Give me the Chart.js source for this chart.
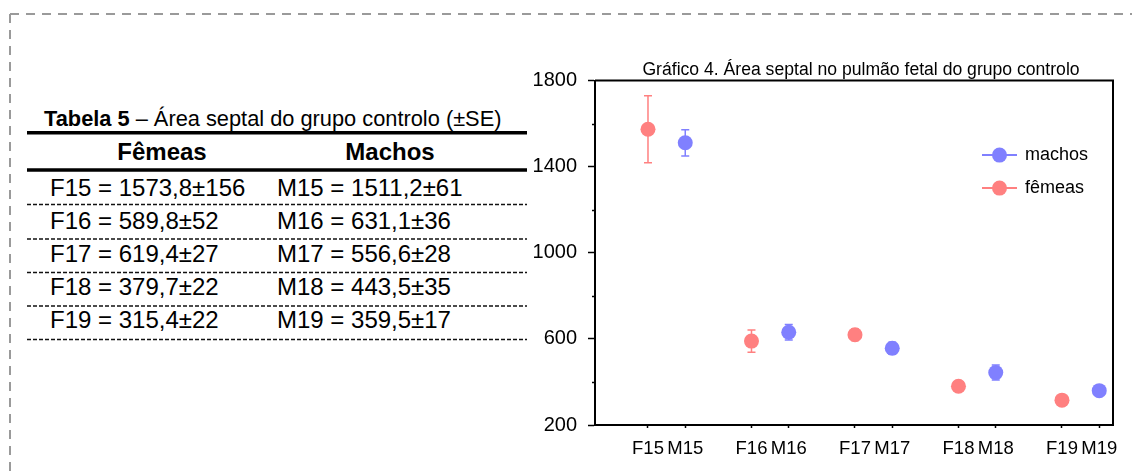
<!DOCTYPE html>
<html lang="pt">
<head>
<meta charset="utf-8">
<title>Área septal do grupo controlo</title>
<script src="https://cdn.jsdelivr.net/npm/chart.js@4.4.1/dist/chart.umd.min.js"></script>
<style>
  html, body { margin: 0; padding: 0; background: #fff; }
  body { width: 1132px; height: 473px; overflow: hidden; position: relative; }
  #frame { position: absolute; left: 0; top: 0; }
  #chartBox { position: absolute; left: 520px; top: 0; width: 682px; height: 473px; }
</style>
</head>
<body>
<svg id="frame" width="1132" height="473" xmlns="http://www.w3.org/2000/svg"></svg>
<div id="chartBox"><canvas id="chart"></canvas></div>
<script>
// Gestational day of each control group
const idades = ['15', '16', '17', '18', '19'];
// Mean septal area (±SE), females
const femeas = [1573.8, 589.8, 619.4, 379.7, 315.4];
const femeasSE = [156, 52, 27, 22, 22];
// Mean septal area (±SE), males
const machos = [1511.2, 631.1, 556.6, 443.5, 359.5];
const machosSE = [61, 36, 28, 35, 17];
// Labels under the x axis, one per plotted group
const xLabels = ['F15', 'M15', 'F16', 'M16', 'F17', 'M17', 'F18', 'M18', 'F19', 'M19'];
// Labelled values on the y axis
const yLabels = [200, 600, 1000, 1400, 1800];
const chartTitle = 'Gráfico 4. Área septal no pulmão fetal do grupo controlo';

const FONT = "'Liberation Sans', Arial, sans-serif";
const fmt = v => v.toFixed(1).replace('.', ',');

/* ---------- table and dashed frame (SVG) ---------- */
const NS = 'http://www.w3.org/2000/svg';
const svg = document.getElementById('frame');
function add(name, attrs, text) {
  const e = document.createElementNS(NS, name);
  for (const k in attrs) e.setAttribute(k, attrs[k]);
  if (text !== undefined) e.textContent = text;
  svg.appendChild(e);
  return e;
}
// outer dashed frame
add('line', { x1: 10, y1: 14, x2: 1132, y2: 14, stroke: '#9a9a9a', 'stroke-width': 2, 'stroke-dasharray': '9 7' });
add('line', { x1: 10, y1: 14, x2: 10, y2: 473, stroke: '#9a9a9a', 'stroke-width': 2, 'stroke-dasharray': '9 7' });

// caption
const cap = add('text', { x: 44, y: 125.5, 'font-family': FONT, 'font-size': 21.8, fill: '#000', style: 'white-space:pre' });
const capB = document.createElementNS(NS, 'tspan');
capB.setAttribute('font-weight', 'bold');
capB.textContent = 'Tabela 5';
cap.appendChild(capB);
const capN = document.createElementNS(NS, 'tspan');
capN.textContent = ' – Área septal do grupo controlo (±SE)';
cap.appendChild(capN);

// header rules and column heads
const tL = 27, tR = 527;
add('line', { x1: tL, y1: 132.7, x2: tR, y2: 132.7, stroke: '#000', 'stroke-width': 3.5 });
add('text', { x: 162, y: 159.5, 'font-family': FONT, 'font-size': 24, 'font-weight': 'bold', 'text-anchor': 'middle' }, 'Fêmeas');
add('text', { x: 390, y: 159.5, 'font-family': FONT, 'font-size': 24, 'font-weight': 'bold', 'text-anchor': 'middle' }, 'Machos');
add('line', { x1: tL, y1: 170, x2: tR, y2: 170, stroke: '#000', 'stroke-width': 3.5 });

// body rows
const rowBase = [196, 229, 262, 295, 328];
const rowRule = [204.5, 239, 272.5, 306, 339.5];
idades.forEach((d, i) => {
  add('text', { x: 50, y: rowBase[i], 'font-family': FONT, 'font-size': 24, fill: '#000' },
      `F${d} = ${fmt(femeas[i])}±${femeasSE[i]}`);
  add('text', { x: 277, y: rowBase[i], 'font-family': FONT, 'font-size': 24, fill: '#000' },
      `M${d} = ${fmt(machos[i])}±${machosSE[i]}`);
  add('line', { x1: tL, y1: rowRule[i], x2: tR, y2: rowRule[i], stroke: '#111', 'stroke-width': 1.3, 'stroke-dasharray': '4 2' });
});

/* ---------- chart ---------- */
const mOffset = 0.36;               // males sit just right of the females of the same day
const fPts = femeas.map((v, i) => ({ x: i, y: v }));
const mPts = machos.map((v, i) => ({ x: i + mOffset, y: v }));
const tickPos = idades.flatMap((_, i) => [i, i + mOffset]);

const errorBars = {
  id: 'errorBars',
  beforeDatasetsDraw(chart) {
    const { ctx, scales: { y } } = chart;
    chart.data.datasets.forEach((ds, di) => {
      const meta = chart.getDatasetMeta(di);
      ctx.save();
      ctx.strokeStyle = ds.borderColor;
      ctx.lineWidth = 1.5;
      meta.data.forEach((pt, i) => {
        const v = ds.data[i].y, e = ds.errors[i];
        const yt = y.getPixelForValue(v + e), yb = y.getPixelForValue(v - e);
        ctx.beginPath();
        ctx.moveTo(pt.x, yt); ctx.lineTo(pt.x, yb);
        ctx.moveTo(pt.x - 4, yt); ctx.lineTo(pt.x + 4, yt);
        ctx.moveTo(pt.x - 4, yb); ctx.lineTo(pt.x + 4, yb);
        ctx.stroke();
      });
      ctx.restore();
    });
  }
};

const plotFrame = {
  id: 'plotFrame',
  afterDraw(chart) {
    const { ctx, chartArea: a, scales: { y } } = chart;
    ctx.save();
    ctx.strokeStyle = '#000';
    ctx.lineWidth = 2;
    ctx.beginPath();
    ctx.moveTo(a.left, a.top); ctx.lineTo(a.right, a.top); ctx.lineTo(a.right, a.bottom);
    ctx.stroke();
    // short minor ticks between the labelled values
    ctx.lineWidth = 1.5;
    y.ticks.forEach(t => {
      if (yLabels.includes(t.value)) return;
      const py = Math.round(y.getPixelForValue(t.value)) + 0.5;
      ctx.beginPath(); ctx.moveTo(a.left - 3, py); ctx.lineTo(a.left, py); ctx.stroke();
    });
    // chart heading above the plot box
    ctx.fillStyle = '#000';
    ctx.font = `17.6px ${FONT}`;
    ctx.textAlign = 'center';
    ctx.textBaseline = 'middle';
    ctx.fillText(chartTitle, chart.width / 2, a.top - 10.5);
    ctx.restore();
  }
};

const legendMarks = {
  id: 'legendMarks',
  afterDraw(chart) {
    const { ctx, chartArea: a } = chart;
    chart.data.datasets.forEach((ds, i) => {
      const y = a.top + 74.5 + i * 33;
      const x0 = a.right - 131;
      ctx.save();
      ctx.strokeStyle = ds.borderColor;
      ctx.lineWidth = 2;
      ctx.beginPath(); ctx.moveTo(x0, y); ctx.lineTo(x0 + 35, y); ctx.stroke();
      ctx.fillStyle = ds.backgroundColor;
      ctx.beginPath(); ctx.arc(x0 + 17.5, y, 7.5, 0, Math.PI * 2); ctx.fill();
      ctx.fillStyle = '#000';
      ctx.font = `18px ${FONT}`;
      ctx.textBaseline = 'middle';
      ctx.textAlign = 'left';
      ctx.fillText(ds.label, x0 + 43, y);
      ctx.restore();
    });
  }
};

Chart.defaults.font.family = FONT;
Chart.defaults.color = '#000';

new Chart(document.getElementById('chart'), {
  type: 'scatter',
  data: {
    datasets: [
      { label: 'machos', data: mPts, errors: machosSE, backgroundColor: '#8080ff', borderColor: '#8080ff',
        pointRadius: 7.5, pointBorderWidth: 0, showLine: false },
      { label: 'fêmeas', data: fPts, errors: femeasSE, backgroundColor: '#ff8080', borderColor: '#ff8080',
        pointRadius: 7.5, pointBorderWidth: 0, showLine: false }
    ]
  },
  options: {
    responsive: true,
    maintainAspectRatio: false,
    animation: false,
    events: [],
    layout: { padding: { left: 0, right: 89, top: 80.6, bottom: 0 } },
    plugins: {
      legend: { display: false },
      tooltip: { enabled: false },
      title: { display: false }
    },
    scales: {
      x: {
        type: 'linear',
        min: -0.512,
        max: 4.493,
        afterFit(s) { s.height = 48; },
        afterBuildTicks(s) { s.ticks = tickPos.map(v => ({ value: v })); },
        ticks: {
          autoSkip: false, maxRotation: 0, padding: 10,
          font: { size: 18.5 }, color: '#000',
          callback: (v, i) => xLabels[i]
        },
        grid: { drawOnChartArea: false, drawTicks: true, tickLength: 3, tickColor: '#000', tickWidth: 1.5 },
        border: { display: true, color: '#000', width: 2 }
      },
      y: {
        min: yLabels[0],
        max: yLabels[yLabels.length - 1],
        afterFit(s) { s.width = 75; },
        ticks: {
          stepSize: 200, padding: 11,
          font: { size: 20 }, color: '#000',
          callback: v => (yLabels.includes(v) ? String(v) : '')
        },
        grid: {
          drawOnChartArea: false, drawTicks: true, tickLength: 7, tickWidth: 1.5,
          tickColor: c => (c.tick && yLabels.includes(c.tick.value) ? '#000' : 'rgba(0,0,0,0)')
        },
        border: { display: true, color: '#000', width: 2 }
      }
    }
  },
  plugins: [errorBars, plotFrame, legendMarks]
});
</script>
</body>
</html>
